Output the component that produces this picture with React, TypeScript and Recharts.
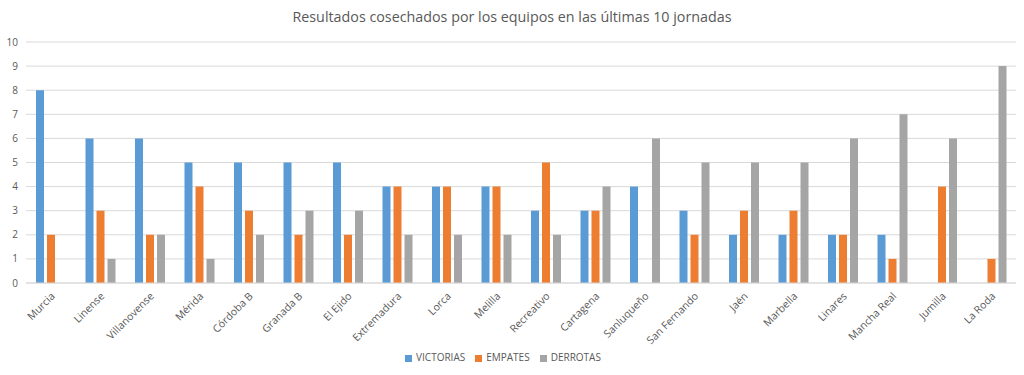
import { BarChart, Bar, XAxis, YAxis, CartesianGrid, Legend } from "recharts";

const equipos = [
  "Murcia", "Linense", "Villanovense", "Mérida", "Córdoba B", "Granada B", "El Ejido",
  "Extremadura", "Lorca", "Melilla", "Recreativo", "Cartagena", "Sanluqueño",
  "San Fernando", "Jaén", "Marbella", "Linares", "Mancha Real", "Jumilla", "La Roda",
];
const victorias = [8, 6, 6, 5, 5, 5, 5, 4, 4, 4, 3, 3, 4, 3, 2, 2, 2, 2, 0, 0];
const empates = [2, 3, 2, 4, 3, 2, 2, 4, 4, 4, 5, 3, 0, 2, 3, 3, 2, 1, 4, 1];
const derrotas = [0, 1, 2, 1, 2, 3, 3, 2, 2, 2, 2, 4, 6, 5, 5, 5, 6, 7, 6, 9];
const yTicks = [0, 1, 2, 3, 4, 5, 6, 7, 8, 9, 10];
const series = ["VICTORIAS", "EMPATES", "DERROTAS"];

const data = equipos.map((name, i) => ({
  name,
  VICTORIAS: victorias[i],
  EMPATES: empates[i],
  DERROTAS: derrotas[i],
}));

const font = "'Open Sans', sans-serif";
const grey = "#595959";

function RotatedTick(props: any) {
  const { x, y, payload } = props;
  return (
    <g transform={`translate(${x + 2},${y + 3})`}>
      <text
        transform="rotate(-45)"
        textAnchor="end"
        dy={4}
        fontSize={10.5}
        fill={grey}
        fontFamily={font}
      >
        {payload.value}
      </text>
    </g>
  );
}

export default function App() {
  return (
    <div style={{ position: "absolute", left: 0, top: 0, width: 1024, height: 375, background: "#fff" }}>
      <div
        style={{
          position: "absolute",
          top: 7,
          width: 1024,
          textAlign: "center",
          fontFamily: font,
          fontSize: 14.3,
          color: grey,
        }}
      >
        Resultados cosechados por los equipos en las últimas 10 jornadas
      </div>
      <BarChart
        width={1024}
        height={375}
        data={data}
        margin={{ top: 42, right: 8, left: 0, bottom: 0 }}
        barSize={8}
        barGap={3}
      >
        <CartesianGrid vertical={false} stroke="#d9d9d9" />
        <XAxis
          dataKey="name"
          interval={0}
          tick={<RotatedTick />}
          tickLine={false}
          axisLine={{ stroke: "#d9d9d9" }}
          height={67}
        />
        <YAxis
          domain={[0, 10]}
          ticks={yTicks}
          width={26}
          axisLine={false}
          tickLine={false}
          tick={{ fontSize: 10, fill: grey, fontFamily: font }}
        />
        <Legend
          iconType="square"
          iconSize={7}
          height={25}
          itemSorter={(item: any) => series.indexOf(item.value)}
          wrapperStyle={{ fontSize: 10, fontFamily: font, color: grey }}
          formatter={(v: string) => <span style={{ color: grey }}>{v}</span>}
        />
        <Bar dataKey="VICTORIAS" fill="#5b9bd5" isAnimationActive={false} />
        <Bar dataKey="EMPATES" fill="#ed7d31" isAnimationActive={false} />
        <Bar dataKey="DERROTAS" fill="#a5a5a5" isAnimationActive={false} />
      </BarChart>
    </div>
  );
}
